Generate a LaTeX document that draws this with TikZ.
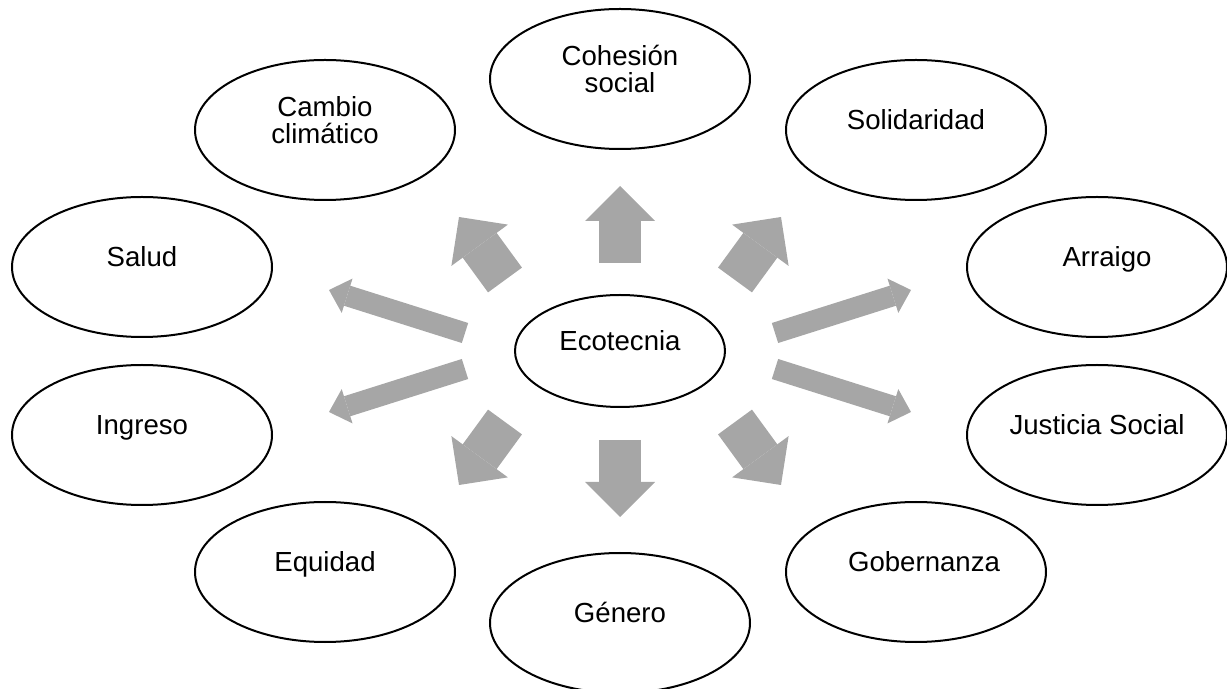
\documentclass[tikz,border=0pt]{standalone}
\usepackage{fontspec}
\setmainfont{Liberation Sans}
\usetikzlibrary{shapes.geometric,arrows.meta}
\definecolor{grisflecha}{RGB}{166,166,166}
\tikzset{
	tema/.style={draw,ellipse,line width=1pt,inner sep=0pt,minimum width=130pt,minimum height=70pt,align=center,
		font=\fontsize{13.8pt}{13.3pt}\selectfont,text height=10pt,text depth=10pt},
	tema2/.style={tema,text height=23.3pt,text depth=10pt},
	flechagrande/.style={grisflecha,line width=21pt,-{Triangle[length=17.5pt,width=35pt,line width=0pt]}},
	flechalarga/.style={grisflecha,line width=10.5pt,-{Triangle[length=9.5pt,width=18pt,line width=0pt]}}
}
\begin{document}
\begin{tikzpicture}[x=50pt,y=-50pt]
	\useasboundingbox (0,0) rectangle (12.27,6.89);
	\node[tema,minimum width=105pt,minimum height=56pt] (eco) at (6.20,3.51) {Ecotecnia};
	\node[tema2] (cohesion) at (6.20,0.79) {Cohesión\\social};
	\node[tema2] (cambio) at (3.25,1.30) {Cambio\\climático};
	\node[tema] (solidaridad) at (9.16,1.30) {Solidaridad};
	\node[tema] (salud) at (1.42,2.67) {Salud};
	\node[tema] (arraigo) at (10.97,2.67) {\hspace*{10pt}Arraigo};
	\node[tema] (ingreso) at (1.42,4.35) {Ingreso};
	\node[tema] (justicia) at (10.97,4.35) {Justicia Social};
	\node[tema] (equidad) at (3.25,5.72) {Equidad};
	\node[tema] (gobernanza) at (9.16,5.72) {\hspace*{8pt}Gobernanza};
	\node[tema] (genero) at (6.20,6.23) {Género};
	\begin{scope}
		\coordinate (n0) at (6.20,2.63); \coordinate (n1) at (6.20,1.86);
		\coordinate (s0) at (6.20,4.40); \coordinate (s1) at (6.20,5.17);
		\coordinate (no0) at (5.05,2.80); \coordinate (no1) at (4.59,2.17);
		\coordinate (ne0) at (7.35,2.80); \coordinate (ne1) at (7.81,2.17);
		\coordinate (so0) at (5.05,4.22); \coordinate (so1) at (4.59,4.85);
		\coordinate (se0) at (7.35,4.22); \coordinate (se1) at (7.81,4.85);
		\draw[flechagrande] (n0) -- (n1);
		\draw[flechagrande] (s0) -- (s1);
		\draw[flechagrande] (no0) -- (no1);
		\draw[flechagrande] (ne0) -- (ne1);
		\draw[flechagrande] (so0) -- (so1);
		\draw[flechagrande] (se0) -- (se1);
	\end{scope}
	\begin{scope}
		\coordinate (o0) at (4.65,3.33); \coordinate (o1) at (3.29,2.90);
		\coordinate (oo0) at (4.65,3.69); \coordinate (oo1) at (3.29,4.12);
		\coordinate (e0) at (7.75,3.33); \coordinate (e1) at (9.11,2.90);
		\coordinate (ee0) at (7.75,3.69); \coordinate (ee1) at (9.11,4.12);
		\draw[flechalarga] (o0) -- (o1);
		\draw[flechalarga] (oo0) -- (oo1);
		\draw[flechalarga] (e0) -- (e1);
		\draw[flechalarga] (ee0) -- (ee1);
	\end{scope}
\end{tikzpicture}
\end{document}
